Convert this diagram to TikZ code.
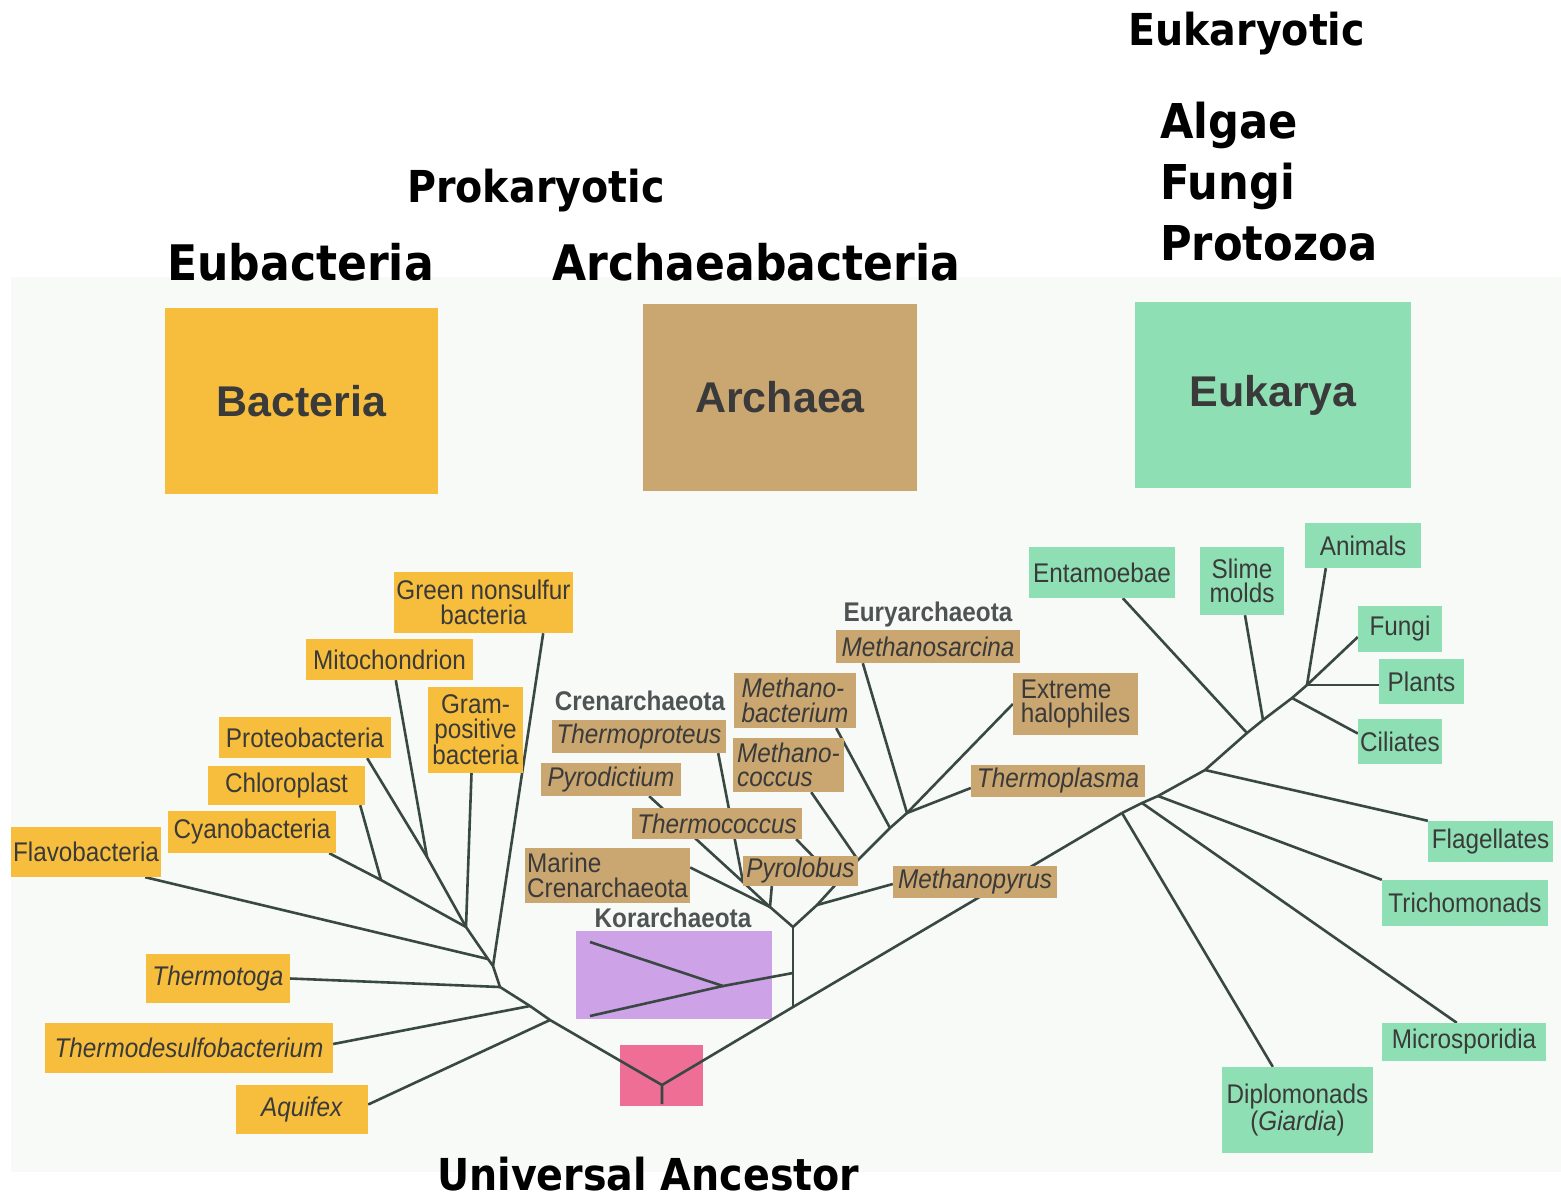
\documentclass[tikz,border=0pt]{standalone}
\usepackage{fontspec}
\setmainfont{Liberation Sans}
\newfontfamily\headfont{DejaVu Sans}[FakeStretch=0.9]
\newfontfamily\lblfont{Liberation Sans}[FakeStretch=0.9]
\usetikzlibrary{backgrounds}
\definecolor{bactcol}{RGB}{246,190,60}
\definecolor{archcol}{RGB}{202,166,112}
\definecolor{eukcol}{RGB}{143,223,180}
\definecolor{korcol}{RGB}{205,162,230}
\definecolor{rootcol}{RGB}{238,110,150}
\definecolor{panelcol}{RGB}{247,250,247}
\definecolor{linecol}{RGB}{58,72,68}
\definecolor{labelgray}{RGB}{58,58,58}
\definecolor{groupgray}{RGB}{78,84,84}
\tikzset{wh/.style 2 args={minimum width=#1pt,minimum height=#2pt}}
\tikzset{heading/.style={inner sep=0pt,anchor=base west,text=black,font=\headfont\bfseries\fontsize{#1}{#1}\selectfont}}
\tikzstyle{domainbox}=[inner sep=0pt,text=labelgray,font=\bfseries\fontsize{43}{43}\selectfont]
\tikzstyle{taxon}=[inner sep=0pt,text=labelgray,align=center,font=\lblfont\fontsize{27}{24.5}\selectfont]
\tikzstyle{bact}=[taxon,fill=bactcol]
\tikzstyle{arch}=[taxon,fill=archcol]
\tikzstyle{euk}=[taxon,fill=eukcol]
\tikzstyle{grouplabel}=[inner sep=0pt,text=groupgray,font=\lblfont\bfseries\fontsize{27}{27}\selectfont]
\tikzstyle{branchline}=[draw=linecol,line width=2.6pt,line join=round]

\begin{document}
\begin{tikzpicture}[x=1pt,y=-1pt]
\useasboundingbox (0,0) rectangle (1561,1202);
% headings
\node[heading=44] (hEuk) at (1128,45) {Eukaryotic};
\node[heading=48] (hAlgae) at (1160,138) {Algae};
\node[heading=48] (hFungi) at (1160,199) {Fungi};
\node[heading=48] (hProto) at (1160,260) {Protozoa};
\node[heading=44] (hProk) at (407,202) {Prokaryotic};
\node[heading=49] (hEubact) at (167,280) {Eubacteria};
\node[heading=49] (hArchbact) at (552,280) {Archaeabacteria};
\node[heading=44] (hAncestor) at (437,1190) {Universal Ancestor};
% domains
\node[domainbox,fill=bactcol,wh={273}{186}] (bacteria) at (301.5,401) {Bacteria};
\node[domainbox,fill=archcol,wh={274}{187}] (archaea) at (780,397.5) {Archaea};
\node[domainbox,fill=eukcol,wh={276}{186}] (eukarya) at (1273,395) {Eukarya};
% bacteria
\node[bact,wh={179}{61}] (gns) at (483.5,602.5) {Green nonsulfur\\bacteria};
\node[bact,wh={167}{41}] (mito) at (389.5,659.5) {Mitochondrion};
\node[bact,wh={95}{86}] (gram) at (475.5,730) {Gram-\\positive\\bacteria};
\node[bact,wh={172}{41}] (proteo) at (305,737.5) {Proteobacteria};
\node[bact,wh={157}{39}] (chloro) at (286.5,785.5) {Chloroplast};
\node[bact,wh={168}{42}] (cyano) at (252,832) {Cyanobacteria};
\node[bact,wh={150}{50}] (flavo) at (86,852) {Flavobacteria};
\node[bact,wh={144}{49}] (thtoga) at (218,978.5) {\textit{Thermotoga}};
\node[bact,wh={288}{50}] (thdesulf) at (189,1048) {\textit{Thermodesulfobacterium}};
\node[bact,wh={132}{49}] (aquifex) at (302,1109.5) {\textit{Aquifex}};
% archaea
\node[grouplabel] (eury) at (928,615) {Euryarchaeota};
\node[arch,wh={184}{33}] (msarc) at (928,646.5) {\textit{Methanosarcina}};
\node[grouplabel] (cren) at (640,701) {Crenarchaeota};
\node[arch,wh={174}{33}] (thprot) at (639,736.5) {\textit{Thermoproteus}};
\node[arch,wh={122}{55},align=left] (mbact) at (795,700.5) {\textit{Methano-}\\\textit{bacterium}};
\node[arch,wh={111}{54},align=left] (mcocc) at (788.5,765) {\textit{Methano-}\\\textit{coccus}};
\node[arch,wh={140}{33}] (pdict) at (611,779.5) {\textit{Pyrodictium}};
\node[arch,wh={170}{31}] (thcocc) at (717,823.5) {\textit{Thermococcus}};
\node[arch,wh={165}{55},align=left] (marine) at (607.5,875.5) {Marine\\Crenarchaeota};
\node[arch,wh={115}{30}] (pyrolob) at (800.5,871) {\textit{Pyrolobus}};
\node[arch,wh={164}{32}] (mpyrus) at (975,882) {\textit{Methanopyrus}};
\node[arch,wh={125}{62},align=left] (halo) at (1075.5,704) {Extreme\\halophiles};
\node[arch,wh={174}{32}] (thplasma) at (1058,781) {\textit{Thermoplasma}};
\node[grouplabel] (korarch) at (673,918) {Korarchaeota};
% eukarya
\node[euk,wh={146}{51}] (entam) at (1102,572.5) {Entamoebae};
\node[euk,wh={84}{68}] (slime) at (1242,581) {Slime\\molds};
\node[euk,wh={116}{45}] (animals) at (1363,545.5) {Animals};
\node[euk,wh={84}{46}] (fungi) at (1400,629) {Fungi};
\node[euk,wh={85}{45}] (plants) at (1421.5,681.5) {Plants};
\node[euk,wh={84}{45}] (ciliates) at (1400,741.5) {Ciliates};
\node[euk,wh={125}{41}] (flagel) at (1490.5,841.5) {Flagellates};
\node[euk,wh={166}{46}] (tricho) at (1465,903) {Trichomonads};
\node[euk,wh={164}{38}] (micro) at (1464,1042) {Microsporidia};
\node[euk,wh={151}{86}] (diplo) at (1297.5,1110) {Diplomonads\\(\textit{Giardia})};

\begin{pgfonlayer}{background}
\fill[panelcol] (11,277) rectangle (1561,1172);
\node[fill=korcol,inner sep=0pt,wh={196}{88}] (korbox) at (674,975) {};
\node[fill=rootcol,inner sep=0pt,wh={83}{61}] (rootbox) at (661.5,1075.5) {};
% junctions
\coordinate (root) at (662,1085);
\coordinate (stem) at (662,1104);
\coordinate (jAq) at (550,1020);
\coordinate (jTd) at (530,1006);
\coordinate (jTt) at (500,987);
\coordinate (jGn) at (493,966);
\coordinate (jFl) at (488,959);
\coordinate (j1) at (466,927);
\coordinate (jPM) at (427,857);
\coordinate (jCC) at (381,880);
\coordinate (jKor) at (793,1007);
\coordinate (jKt) at (793,973);
\coordinate (jK) at (723,986);
\coordinate (kU) at (590,942);
\coordinate (kL) at (590,1016);
\coordinate (jA) at (793,927);
\coordinate (jC) at (770,907);
\coordinate (jTp) at (743,882);
\coordinate (jE0) at (817,905);
\coordinate (jTc) at (838,882);
\coordinate (jMc) at (858,860);
\coordinate (jMb) at (890,828);
\coordinate (jMs) at (907,813);
\coordinate (jD) at (1122,813);
\coordinate (jMi) at (1142,803);
\coordinate (jTr) at (1158,796);
\coordinate (jFg) at (1205,770);
\coordinate (jEn) at (1247,733);
\coordinate (jSl) at (1263,720);
\coordinate (jCi) at (1292,698);
\coordinate (jAn) at (1307,685);
% bacteria branches
\draw[branchline] (stem) -- (root) -- (jAq) -- (jTd) -- (jTt) -- (jGn) -- (jFl) -- (j1);
\draw[branchline] (jAq) -- ([yshift=5pt]aquifex.east);
\draw[branchline] (jTd) -- ([yshift=4pt]thdesulf.east);
\draw[branchline] (jTt) -- (thtoga.east);
\draw[branchline] (jGn) -- ([xshift=-30pt]gns.south east);
\draw[branchline] (jFl) -- ([xshift=-16pt]flavo.south east);
\draw[branchline] (j1) -- ([xshift=-4pt]gram.south);
\draw[branchline] (j1) -- (jPM) -- ([xshift=-24pt]proteo.south east);
\draw[branchline] (jPM) -- ([xshift=90pt]mito.south west);
\draw[branchline] (j1) -- (jCC) -- ([xshift=-5pt]chloro.south east);
\draw[branchline] (jCC) -- ([xshift=-7pt]cyano.south east);
% archaea branches
\draw[branchline] (root) -- (jKor) -- (jD);
\draw[branchline] (jKor) -- (jKt) -- (jA);
\draw[branchline] (jKt) -- (jK) -- (kU);
\draw[branchline] (jK) -- (kL);
\draw[branchline] (jA) -- (jC) -- (jTp) -- ([xshift=-32pt]pdict.south east);
\draw[branchline] (jTp) -- ([xshift=-8pt]thprot.south east);
\draw[branchline] (jC) -- ([yshift=8pt]marine.east);
\draw[branchline] (jC) -- ([xshift=29pt]pyrolob.south west);
\draw[branchline] (jA) -- (jE0) -- (jTc) -- (jMc) -- (jMb) -- (jMs);
\draw[branchline] (jE0) -- ([yshift=-2pt]mpyrus.west);
\draw[branchline] (jTc) -- ([xshift=-6pt]thcocc.south east);
\draw[branchline] (jMc) -- ([xshift=-33pt]mcocc.south east);
\draw[branchline] (jMb) -- ([xshift=-20pt]mbact.south east);
\draw[branchline] (jMs) -- ([xshift=27pt]msarc.south west);
\draw[branchline] (jMs) -- (halo.west);
\draw[branchline] (jMs) -- ([yshift=-7pt]thplasma.west);
% eukarya branches
\draw[branchline] (jD) -- (jMi) -- (jTr) -- (jFg) -- (jEn) -- (jSl) -- (jCi) -- (jAn);
\draw[branchline] (jD) -- ([xshift=51pt]diplo.north west);
\draw[branchline] (jMi) -- ([xshift=75pt]micro.north west);
\draw[branchline] (jTr) -- (tricho.north west);
\draw[branchline] (jFg) -- (flagel.north west);
\draw[branchline] (jEn) -- ([xshift=94pt]entam.south west);
\draw[branchline] (jSl) -- ([xshift=3pt]slime.south);
\draw[branchline] (jCi) -- ([yshift=8pt]ciliates.west);
\draw[branchline] (jAn) -- ([xshift=21pt]animals.south west);
\draw[branchline] (jAn) -- ([yshift=-8pt]fungi.west);
\draw[branchline] (jAn) -- ([yshift=-3.5pt]plants.west);
\end{pgfonlayer}
\end{tikzpicture}
\end{document}
